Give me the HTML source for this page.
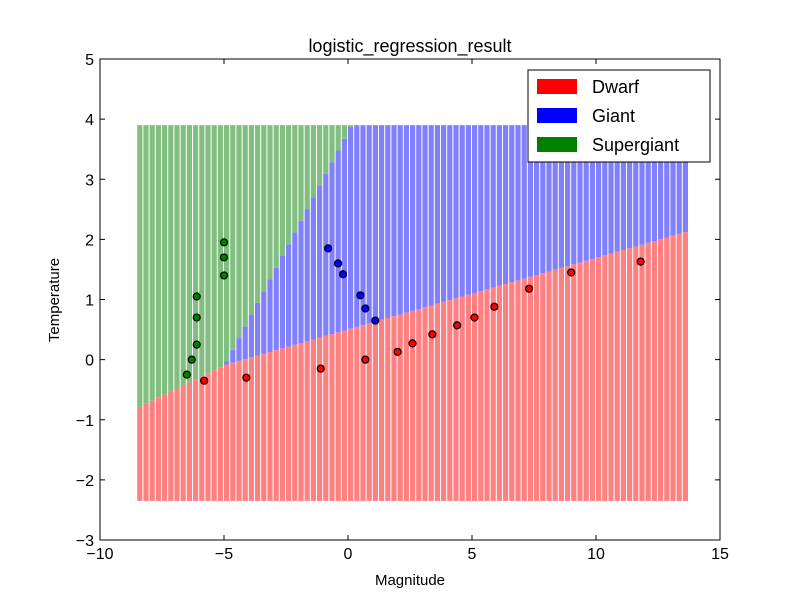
<!DOCTYPE html>
<html><head><meta charset="utf-8"><style>
body{margin:0;background:#fff;}
svg{display:block;font-family:"Liberation Sans",sans-serif;}
</style></head><body>
<svg id="chart" width="800" height="600">
<rect width="800" height="600" fill="#fff"/>
<g id="regions"></g>
<g id="pts"></g>
<rect x="100" y="59" width="620" height="481" fill="none" stroke="#000"/>
<g id="axes" font-size="16" fill="#000"></g>
<text x="410" y="52" font-size="18" text-anchor="middle">logistic_regression_result</text>
<text x="410" y="585" font-size="15" text-anchor="middle">Magnitude</text>
<text x="59" y="300" font-size="15" text-anchor="middle" transform="rotate(-90 59 300)">Temperature</text>
<g>
<rect x="528" y="70" width="182" height="92" fill="#fff" stroke="#000"/>
<rect x="537" y="79" width="40" height="15" fill="#ff0000"/>
<text x="592" y="93" font-size="18">Dwarf</text>
<rect x="537" y="108" width="40" height="15" fill="#0000ff"/>
<text x="592" y="122" font-size="18">Giant</text>
<rect x="537" y="137" width="40" height="15" fill="#008000"/>
<text x="592" y="151" font-size="18">Supergiant</text>
</g>
</svg>
<script>
const xTicks=[-10,-5,0,5,10,15];
const yTicks=[-3,-2,-1,0,1,2,3,4,5];
const greenX=[-6.5,-6.3,-6.1,-6.1,-6.1,-5.0,-5.0,-5.0];
const greenY=[-0.25,0.0,0.25,0.7,1.05,1.4,1.7,1.95];
const blueX=[-0.8,-0.4,-0.2,0.5,0.7,1.1];
const blueY=[1.85,1.6,1.42,1.07,0.85,0.65];
const redX=[-5.8,-4.1,-1.1,0.7,2.0,2.6,3.4,4.4,5.1,5.9,7.3,9.0,11.8];
const redY=[-0.35,-0.3,-0.15,0.0,0.13,0.27,0.42,0.57,0.7,0.88,1.18,1.45,1.63];
const gridX=[-8.5,13.6], gridY=[-2.35,3.9], step=0.25;
const junction=[-4.95,-0.09];
const slopeRedGreen=0.203, slopeRedBlue=0.119, slopeGreenBlue=0.78;
const X=v=>100+(v+10)*24.8, Y=v=>540-(v+3)*60.125;
const NS='http://www.w3.org/2000/svg';
function mk(tag,attrs,parent){const e=document.createElementNS(NS,tag);for(const k in attrs)e.setAttribute(k,attrs[k]);parent.appendChild(e);return e;}
const reg=document.getElementById('regions');
function r(x){return junction[1]+(x-junction[0])*(x<junction[0]?slopeRedGreen:slopeRedBlue);}
function g(x){return junction[1]+(x-junction[0])*slopeGreenBlue;}
for(let x=gridX[0];x<gridX[1]-1e-9;x+=step){
  const xc=x+step/2, top=gridY[1], bot=gridY[0];
  const rv=Math.min(top,r(xc)), gv=Math.min(top,Math.max(rv,g(xc)));
  const x0=X(x), w=X(x+step)-x0-1;
  const segs=[[bot,rv,'#ff8080'],[rv,gv,'#8080ff'],[gv,top,'#80bf80']];
  for(const s of segs){ if(s[1]-s[0]<=0)continue;
    const e=mk('rect',{x:x0,y:Y(s[1]),width:w,height:Y(s[0])-Y(s[1]),fill:s[2]},reg);
    
    
  }
}
const pts=document.getElementById('pts');
[[greenX,greenY,'#008000'],[blueX,blueY,'#0000ff'],[redX,redY,'#ff0000']].forEach(([xs,ys,c])=>{
  xs.forEach((v,i)=>{const e=mk('circle',{cx:X(v),cy:Y(ys[i]),r:3.5,fill:c,stroke:'#000','stroke-width':1.2},pts);
    
    });
});
const ax=document.getElementById('axes');
xTicks.forEach(t=>{const x=X(t);
  mk('line',{x1:x,x2:x,y1:540,y2:535,stroke:'#000'},ax);mk('line',{x1:x,x2:x,y1:59,y2:64,stroke:'#000'},ax);
  const e=mk('text',{x:x,y:559,'text-anchor':'middle'},ax);e.textContent=t<0?'\u2212'+(-t):t;
  
  });
yTicks.forEach(t=>{const y=Y(t);
  mk('line',{x1:100,x2:105,y1:y,y2:y,stroke:'#000'},ax);mk('line',{x1:715,x2:720,y1:y,y2:y,stroke:'#000'},ax);
  const e=mk('text',{x:94,y:y+6,'text-anchor':'end'},ax);e.textContent=t<0?'\u2212'+(-t):t;
  
  });
</script>
</body></html>
